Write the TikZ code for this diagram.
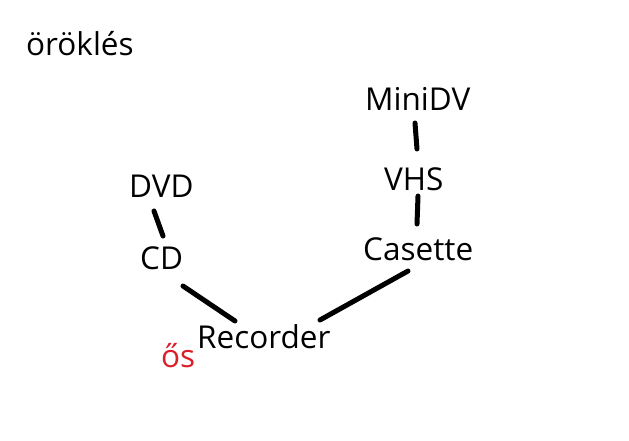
\documentclass[tikz,border=0pt]{standalone}
\usepackage{fontspec}
\setmainfont{Open Sans}
\definecolor{osred}{RGB}{220,30,40}
\tikzset{
  lbl/.style={anchor=base west, inner sep=0pt, font=\fontsize{31.5}{34}\selectfont},
  link/.style={line width=5pt, line cap=round, black}
}
\begin{document}
\begin{tikzpicture}[x=1pt,y=-1pt]
\useasboundingbox[fill=white] (0,0) rectangle (629,440);
\node[lbl] (title) at (26,55) {öröklés};
\node[lbl] (minidv) at (365,110) {MiniDV};
\node[lbl] (vhs) at (384,190) {VHS};
\node[lbl] (casette) at (363,260) {Casette};
\node[lbl] (dvd) at (129,197) {DVD};
\node[lbl] (cd) at (140,269) {CD};
\node[lbl] (recorder) at (197,348) {Recorder};
\node[lbl, text=osred] (os) at (161,367) {ős};
\coordinate (minidv-b) at (415,123);
\coordinate (vhs-t) at (417,149);
\coordinate (vhs-b) at (418,196);
\coordinate (casette-t) at (417,224);
\coordinate (dvd-b) at (154,211);
\coordinate (cd-t) at (163,236);
\coordinate (cd-b) at (183,286);
\coordinate (rec-l) at (235,321);
\coordinate (rec-r) at (320,320);
\coordinate (casette-b) at (408,271);
\draw[link] (minidv-b) -- (vhs-t);
\draw[link] (vhs-b) -- (casette-t);
\draw[link] (dvd-b) -- (cd-t);
\draw[link] (cd-b) -- (rec-l);
\draw[link] (rec-r) -- (casette-b);
\end{tikzpicture}
\end{document}
